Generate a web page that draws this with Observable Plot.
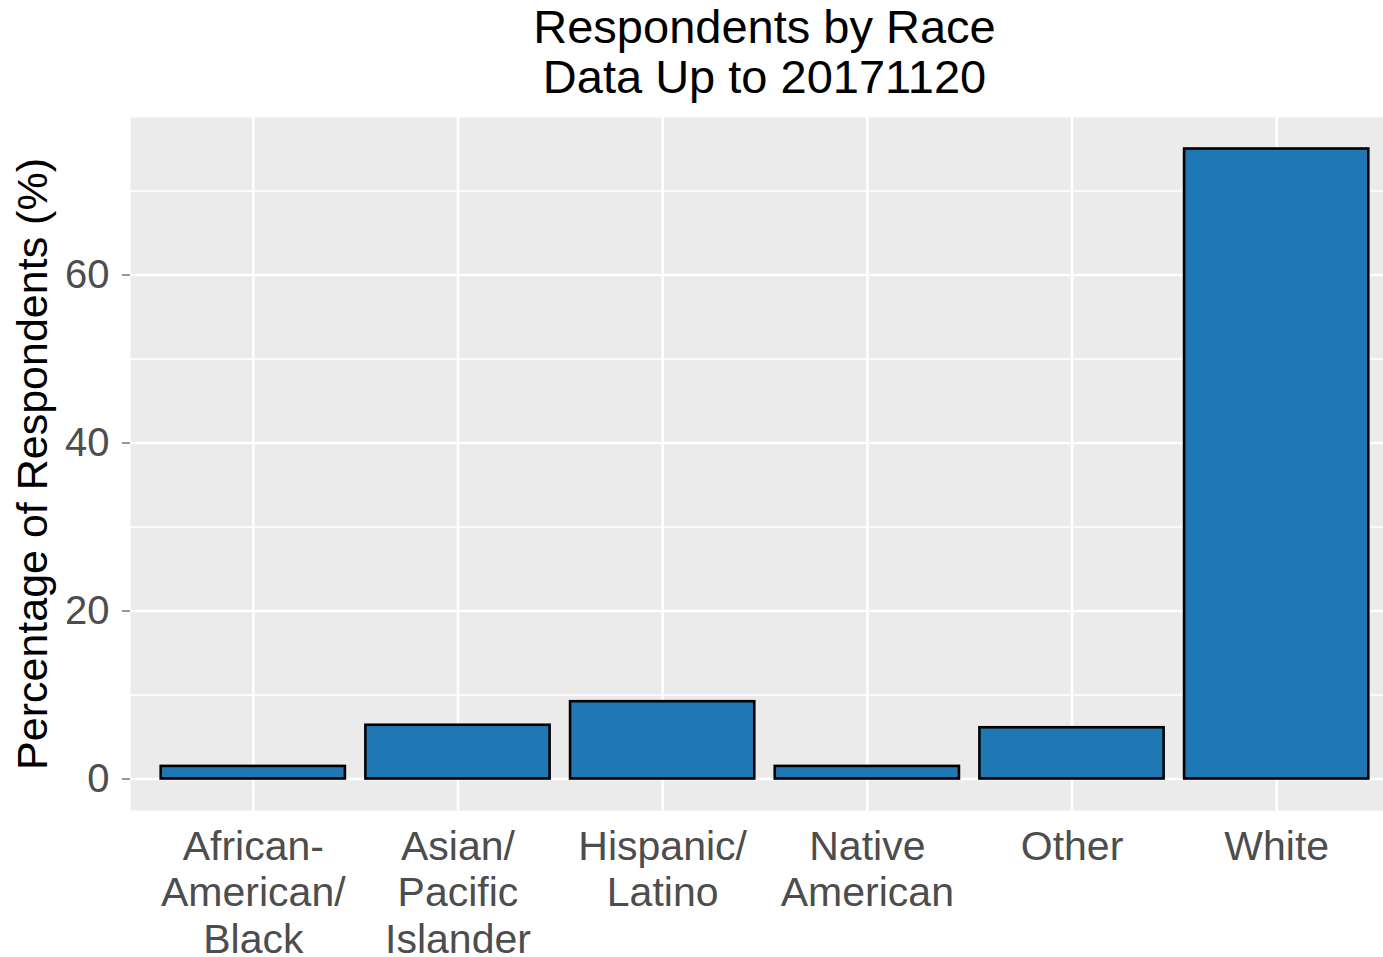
<!DOCTYPE html>
<html>
<head>
<meta charset="utf-8">
<script src="https://cdn.jsdelivr.net/npm/d3@7"></script>
<script src="https://cdn.jsdelivr.net/npm/@observablehq/plot@0.6"></script>
<style>
  html, body { margin: 0; padding: 0; background: #fff; overflow: hidden; }
  #wrap { width: 1400px; font-family: "Liberation Sans", Arial, sans-serif; }
  #title { box-sizing: border-box; height: 105px; padding-left: 130px; padding-right: 1px; padding-top: 2px;
    text-align: center; font-size: 47px; line-height: 50px; color: #000; }
</style>
</head>
<body>
<div id="wrap">
  <div id="title">Respondents by Race<br>Data Up to 20171120</div>
  <div id="chart"></div>
</div>
<script>
const categories = ["African-American/Black", "Asian/Pacific Islander", "Hispanic/Latino", "Native American", "Other", "White"];
const tickLabels = ["African-\nAmerican/\nBlack", "Asian/\nPacific\nIslander", "Hispanic/\nLatino", "Native\nAmerican", "Other", "White"];
const percentages = [1.5, 6.4, 9.2, 1.5, 6.1, 75.0];
const majorY = [0, 20, 40, 60];
const minorY = [10, 30, 50, 70];
const yLabel = "Percentage of Respondents (%)";

const data = categories.map((c, i) => ({category: c, pct: percentages[i]}));
const labelOf = new Map(categories.map((c, i) => [c, tickLabels[i]]));

const chart = Plot.plot({
  width: 1400,
  height: 852,
  marginLeft: 130,
  marginRight: 1,
  marginTop: 12,
  marginBottom: 147,
  style: {fontFamily: "Liberation Sans, Arial, sans-serif", background: "transparent", overflow: "visible"},
  x: {domain: categories, paddingInner: 0.1, paddingOuter: 0.15, round: false},
  y: {domain: [-3.75, 78.75]},
  marks: [
    Plot.frame({fill: "#EBEBEB", stroke: null}),
    Plot.gridY(minorY, {stroke: "#fff", strokeOpacity: 1, strokeWidth: 1.3}),
    Plot.gridY(majorY, {stroke: "#fff", strokeOpacity: 1, strokeWidth: 2.6}),
    Plot.gridX({stroke: "#fff", strokeOpacity: 1, strokeWidth: 2.6}),
    Plot.barY(data, {x: "category", y: "pct", fill: "#1F77B4", stroke: "#000", strokeWidth: 2.6}),
    Plot.axisY({ticks: majorY, tickSize: 8, tickPadding: 13, fontSize: 40, color: "#4D4D4D", stroke: "#333", label: null}),
    Plot.axisX({tickSize: 0, tickPadding: 16, fontSize: 41, lineHeight: 1.14, color: "#4D4D4D",
      tickFormat: d => labelOf.get(d), label: null}),
    Plot.text([yLabel], {frameAnchor: "left", textAnchor: "middle", dx: -97, rotate: -90, fontSize: 43, fill: "#000"})
  ]
});
document.getElementById("chart").appendChild(chart);
</script>
</body>
</html>
